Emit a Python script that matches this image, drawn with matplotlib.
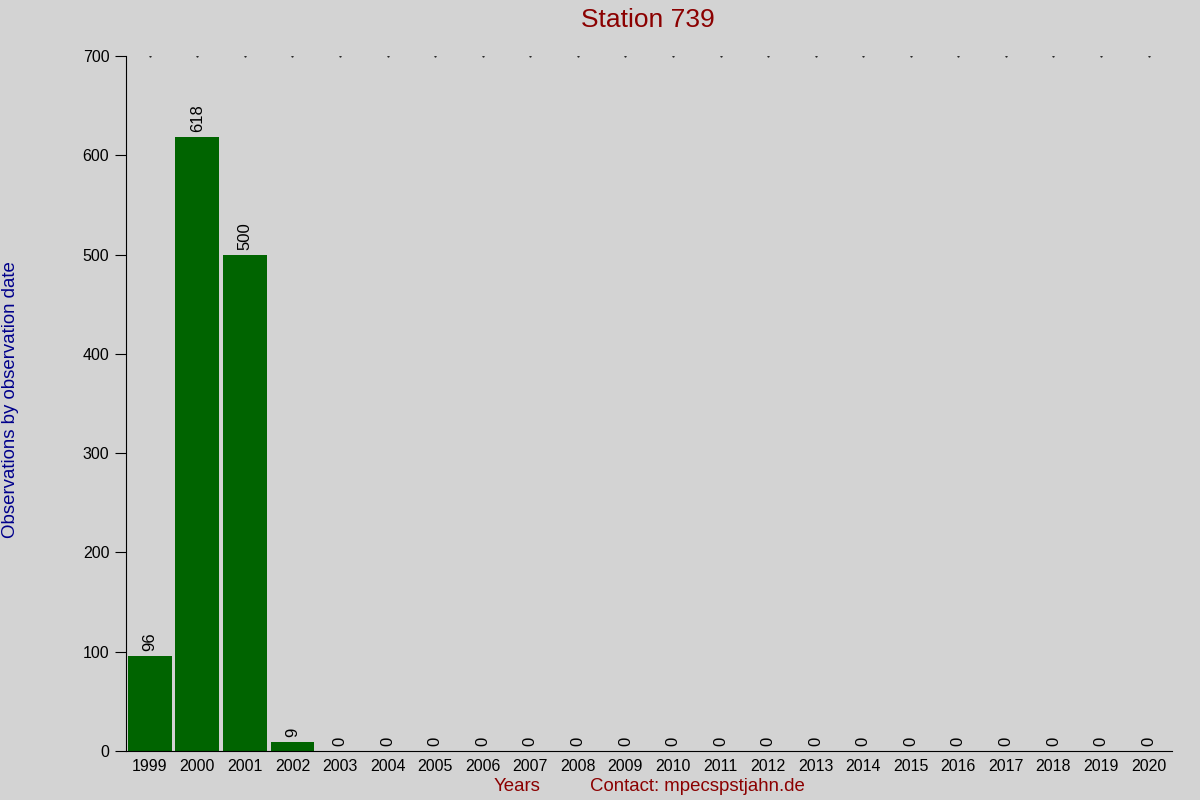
import numpy as np
import matplotlib.pyplot as plt

years = [str(y) for y in range(1999, 2021)]
counts = [96, 618, 500, 9] + [0] * 18

plt.rcParams['font.family'] = ['Liberation Sans', 'DejaVu Sans']

bg = '#d3d3d3'
fig = plt.figure(figsize=(12, 8), dpi=100, facecolor=bg)
ax = fig.add_axes([0.105, 0.06125, 0.872, 0.86875], facecolor=bg)

x = np.arange(len(years))
ax.bar(x, counts, width=0.92, color='#006400')

# small dots along the top at each year
ax.scatter(x, [700] * len(x), s=1, color='black', marker='.')

for xi, c in zip(x, counts):
    ax.text(xi, c + 5, str(c), rotation=90, ha='center', va='bottom', fontsize=12)

ax.set_xlim(-0.5, len(years) - 0.5)
ax.set_ylim(0, 700)
ax.set_yticks(range(0, 701, 100))
ax.set_xticks(x)
ax.set_xticklabels(years)
ax.tick_params(axis='x', length=0, labelsize=11.5, pad=6)
ax.tick_params(axis='y', length=8, labelsize=11.5, pad=4)
ax.spines['top'].set_visible(False)
ax.spines['right'].set_visible(False)

fig.text(0.54, 0.975, 'Station 739', color='#8b0000', fontsize=19, ha='center', va='center')
fig.text(0.009, 0.5, 'Observations by observation date', color='#00008b', fontsize=13.4,
         rotation=90, ha='center', va='center')
fig.text(0.431, 0.017, 'Years', color='#8b0000', fontsize=13.4, ha='center', va='center')
fig.text(0.581, 0.017, 'Contact: mpecspstjahn.de', color='#8b0000', fontsize=13.4,
         ha='center', va='center')

fig.savefig('out.png', dpi=100, facecolor=bg)
